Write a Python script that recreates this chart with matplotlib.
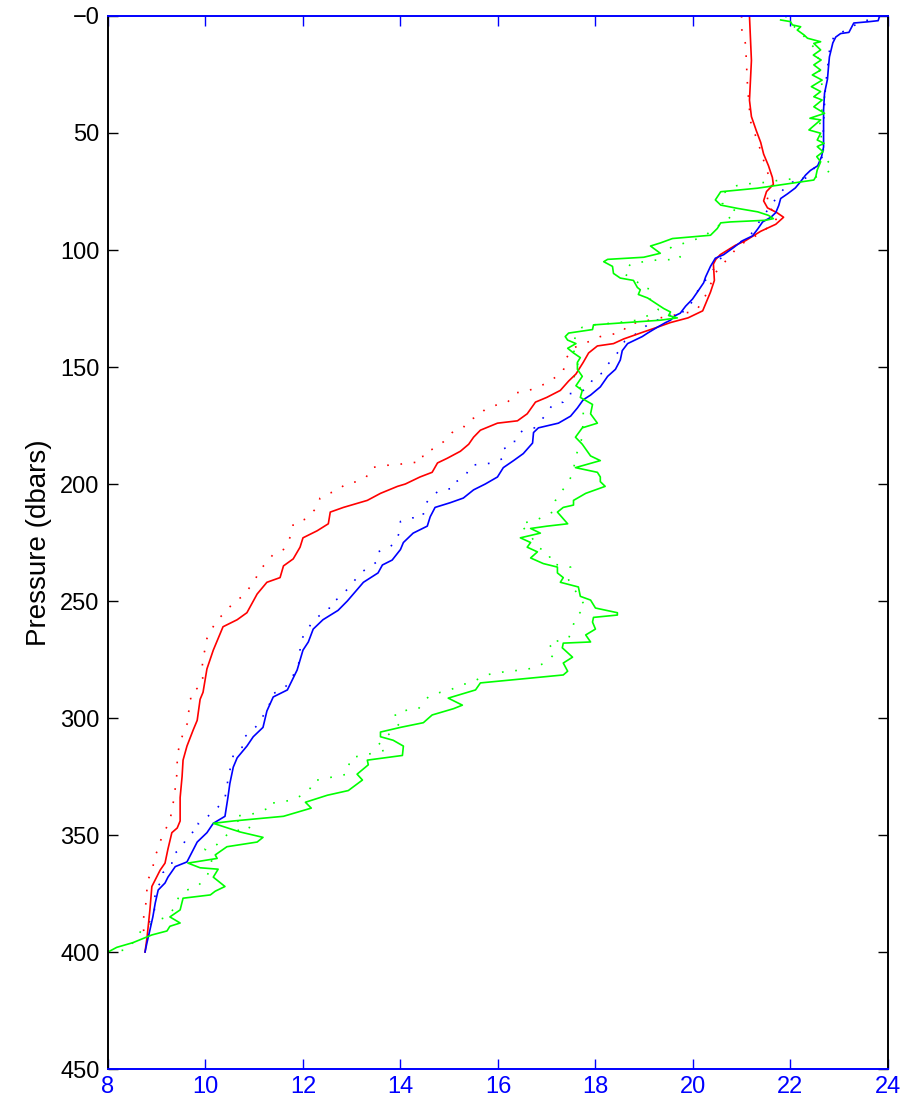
import matplotlib
matplotlib.use("Agg")
import matplotlib.pyplot as plt

plt.rcParams['font.family'] = ['Liberation Sans', 'DejaVu Sans']

# red profile, solid
red_solid_p = [0, 19, 36, 43, 49, 54, 59, 64, 69, 72, 75, 79, 82, 84, 86, 89, 92, 96, 98, 102,
               104, 106, 113, 118, 121, 126, 129, 131, 133, 135, 138, 140, 141, 144, 148, 153, 156, 160, 163, 165,
               170, 173, 174, 177, 180, 183, 186, 189, 191, 195, 197, 200, 201, 204, 207, 210, 212, 217, 220, 223,
               227, 232, 235, 240, 242, 247, 255, 258, 261, 267, 271, 279, 289, 292, 301, 305, 312, 318, 325, 334,
               344, 347, 349, 356, 362, 365, 372, 382, 394, 400]
red_solid_x = [21.16, 21.2, 21.16, 21.2, 21.3, 21.39, 21.45, 21.55, 21.63, 21.65, 21.51, 21.45, 21.53, 21.72, 21.86, 21.7, 21.39, 21.08, 20.87, 20.56,
               20.47, 20.42, 20.44, 20.36, 20.3, 20.2, 19.9, 19.54, 19.27, 18.99, 18.58, 18.37, 18.04, 17.86, 17.75, 17.6, 17.45, 17.28, 17.0, 16.77,
               16.6, 16.4, 15.99, 15.64, 15.5, 15.4, 15.23, 14.96, 14.76, 14.65, 14.4, 14.1, 13.94, 13.59, 13.32, 12.83, 12.56, 12.52, 12.29, 12.0,
               11.94, 11.8, 11.6, 11.53, 11.26, 11.06, 10.85, 10.65, 10.36, 10.24, 10.16, 10.03, 9.95, 9.89, 9.83, 9.75, 9.62, 9.54, 9.52, 9.48,
               9.48, 9.42, 9.31, 9.23, 9.17, 9.07, 8.9, 8.86, 8.8, 8.76]

# red profile, dotted
red_dot_p = [0, 4, 12, 30, 45, 55, 65, 72, 80, 86, 92, 98, 104, 110, 118, 126, 129, 130, 131, 132,
             135, 136, 137, 139, 142, 147, 152, 157, 158.5, 160.6, 161, 165, 166, 168, 171, 173, 176, 178, 182, 185,
             187, 190, 191, 191.5, 192, 193, 197, 199, 200, 203, 204, 206, 210, 215, 217, 221, 225, 228, 230, 233,
             237, 241, 248, 250, 255, 258, 262, 266, 270, 274, 279, 285, 287, 290, 294, 298, 302, 304, 312, 317,
             322, 327, 336, 344, 348, 351, 356, 360, 365, 369, 373, 379, 383, 389, 395]
red_dot_x = [21.0, 20.98, 21.08, 21.12, 21.18, 21.35, 21.5, 21.62, 21.5, 21.75, 21.45, 20.95, 20.7, 20.45, 20.3, 20.07, 19.33, 19.1, 18.86, 18.64,
             18.57, 18.35, 18.1, 17.88, 17.53, 17.38, 17.34, 17.0, 16.8, 16.58, 16.36, 16.2, 16.0, 15.74, 15.6, 15.37, 15.29, 15.06, 14.88, 14.67,
             14.45, 14.47, 14.24, 14.0, 13.73, 13.4, 13.3, 13.1, 12.87, 12.7, 12.52, 12.35, 12.29, 12.05, 11.8, 11.78, 11.68, 11.6, 11.39, 11.28,
             11.1, 11.02, 10.77, 10.6, 10.4, 10.24, 10.13, 10.03, 10.0, 9.95, 9.93, 9.95, 9.85, 9.68, 9.72, 9.64, 9.64, 9.58, 9.46, 9.42,
             9.42, 9.4, 9.34, 9.27, 9.17, 9.1, 9.03, 8.94, 8.92, 8.82, 8.8, 8.78, 8.74, 8.72, 8.76]

# blue profile, solid
blue_solid_p = [0, 2, 2.5, 3, 7, 7.5, 9, 11.5, 17.5, 22, 27, 33, 40, 56, 60, 64, 66, 68, 71, 73.5,
                76, 78, 81, 84, 86, 88, 91, 94, 96, 99, 102, 103.5, 107, 111.5, 114, 118, 121, 124, 127, 128,
                130, 131, 133, 135.5, 137, 140, 143, 147, 151, 154, 158.5, 162, 164, 167.5, 171, 174, 176, 178, 182.5, 187,
                190, 193, 197, 200, 202.5, 206, 208, 210, 214, 218, 221, 225, 228, 232.5, 234.6, 238, 242, 250, 254, 258,
                262, 267.5, 271, 279.5, 288, 291, 297, 304, 308, 312, 317, 321, 328, 334, 342, 345, 349, 353, 361.5, 363.5,
                368, 370.5, 373.5, 379, 385, 390.6, 396, 400]
blue_solid_x = [23.83, 23.8, 23.58, 23.3, 23.2, 23.03, 22.93, 22.87, 22.8, 22.78, 22.76, 22.7, 22.68, 22.68, 22.64, 22.56, 22.41, 22.31, 22.2, 22.1,
                21.94, 21.8, 21.76, 21.7, 21.6, 21.43, 21.33, 21.22, 21.02, 20.83, 20.63, 20.46, 20.36, 20.26, 20.22, 20.09, 19.99, 19.85, 19.74, 19.64,
                19.54, 19.44, 19.27, 19.07, 18.96, 18.66, 18.55, 18.51, 18.41, 18.25, 18.1, 17.9, 17.75, 17.63, 17.49, 17.24, 16.83, 16.73, 16.71, 16.52,
                16.32, 16.11, 15.99, 15.74, 15.5, 15.29, 15.02, 14.71, 14.61, 14.55, 14.26, 14.06, 14.0, 13.83, 13.63, 13.54, 13.24, 12.91, 12.72, 12.41,
                12.21, 12.11, 12.0, 11.88, 11.68, 11.39, 11.26, 11.18, 10.98, 10.85, 10.65, 10.57, 10.5, 10.46, 10.4, 10.16, 10.03, 9.83, 9.62, 9.38,
                9.23, 9.17, 9.03, 8.97, 8.92, 8.86, 8.8, 8.76]

# blue profile, dotted
blue_dot_p = [0, 3, 7, 8, 15, 30, 45, 60, 69, 71.5, 77, 81, 87, 93, 97, 99, 104, 109, 117, 126,
              127, 131, 136, 139, 143, 146, 149, 152.5, 154, 158.5, 161, 161.5, 165, 166, 170, 176, 177, 180, 183, 185,
              189, 191, 191.5, 192, 196, 198, 200, 202, 203, 206, 210, 214, 214.5, 216, 220.5, 225, 227, 229, 233.5, 236,
              238, 242, 245, 249, 251, 253.5, 256, 259, 266, 270, 275, 279.5, 282.5, 285, 288, 289.5, 292, 296, 300, 302,
              304, 306, 309, 313, 316, 326, 330, 334, 338, 342, 345, 347, 350, 356, 358.5, 363, 366, 370, 373, 383,
              387.6, 398]
blue_dot_x = [23.85, 23.4, 23.05, 22.9, 22.8, 22.72, 22.68, 22.66, 22.35, 21.96, 21.74, 21.6, 21.39, 21.2, 20.95, 20.79, 20.55, 20.4, 20.11, 19.88,
              19.66, 19.13, 18.82, 18.6, 18.49, 18.37, 18.25, 18.16, 17.96, 17.88, 17.66, 17.42, 17.34, 17.12, 17.0, 16.75, 16.52, 16.34, 16.34, 16.11,
              16.11, 15.9, 15.68, 15.43, 15.35, 15.25, 15.02, 15.02, 14.78, 14.6, 14.47, 14.47, 14.24, 14.0, 13.98, 13.9, 13.77, 13.54, 13.5, 13.32,
              13.18, 13.03, 12.91, 12.72, 12.54, 12.54, 12.35, 12.19, 11.98, 11.94, 11.94, 11.86, 11.78, 11.72, 11.57, 11.39, 11.37, 11.26, 11.16, 11.12,
              11.02, 10.92, 10.75, 10.75, 10.57, 10.46, 10.44, 10.4, 10.26, 10.05, 9.85, 9.89, 9.64, 9.5, 9.31, 9.31, 9.13, 9.1, 8.97, 8.95,
              8.84, 8.82]

# green profile, solid
green_solid_p = [1.7, 2.4, 3.8, 4.6, 6, 8.1, 9.5, 11, 11.7, 14.5, 16.7, 18.8, 20.9, 23.1, 25.2, 27.4, 30.2, 32.3, 34.5, 35.9,
                 38.8, 41.6, 43.7, 44.4, 48.7, 50.1, 53, 54.4, 55.8, 58, 60.1, 62.3, 65.8, 68.7, 70.1, 73.6, 75.1, 78.6, 80.8, 82.2,
                 83.7, 85.2, 86.6, 87.3, 88, 88.4, 90.8, 93.7, 95.1, 97, 98.3, 101.4, 103.1, 104, 105, 107, 110, 112, 113, 116,
                 117, 119, 120.5, 125, 126.5, 128, 129, 130, 131, 132, 134, 135.5, 137, 138.5, 140, 142, 144, 146, 148, 151,
                 154, 158, 160, 163, 166, 170, 174, 176, 180, 183, 188, 190, 193, 195, 197, 199, 201, 204, 207, 209,
                 210, 212, 217, 218, 219, 221, 223, 225, 227, 229, 231.6, 234, 235.5, 238, 240, 242, 244, 248, 249.6, 253,
                 255, 256, 257, 259, 262, 264.5, 267.5, 268, 270, 274, 276.5, 280, 281.6, 285, 288, 291.5, 294.5, 296, 298.7, 302,
                 304, 306, 308, 309.5, 312, 316, 318, 320, 324, 326.5, 331, 333, 336, 338.5, 342, 344, 345, 348.7, 351, 353,
                 355, 358.5, 360, 362, 364, 364.6, 368, 372, 374, 375.6, 377, 382, 385, 387.6, 389, 391, 392.7, 396, 398, 400]
green_solid_x = [21.8, 22.0, 22.04, 22.21, 22.14, 22.28, 22.35, 22.62, 22.48, 22.62, 22.47, 22.63, 22.48, 22.62, 22.45, 22.65, 22.43, 22.62, 22.48, 22.65,
                 22.48, 22.7, 22.4, 22.62, 22.38, 22.62, 22.55, 22.69, 22.55, 22.67, 22.54, 22.62, 22.55, 22.52, 22.48, 21.32, 20.57, 20.46, 20.57, 20.91,
                 21.33, 21.55, 21.65, 21.49, 20.77, 20.57, 20.5, 20.36, 19.58, 19.33, 19.13, 19.33, 18.99, 18.25, 18.17, 18.35, 18.37, 18.51, 18.78, 18.86,
                 18.92, 18.88, 19.07, 19.4, 19.54, 19.5, 19.68, 19.33, 18.66, 17.96, 17.94, 17.45, 17.38, 17.43, 17.6, 17.43, 17.55, 17.69, 17.63, 17.63,
                 17.73, 17.6, 17.73, 17.69, 17.94, 17.9, 18.04, 17.73, 17.59, 17.73, 17.9, 18.1, 17.59, 18.04, 18.1, 18.1, 18.2, 17.8, 17.55, 17.55,
                 17.34, 17.22, 17.43, 17.01, 16.67, 16.87, 16.46, 16.67, 16.6, 16.81, 16.67, 16.93, 17.22, 17.22, 17.34, 17.28, 17.65, 17.69, 17.9, 18.0,
                 18.45, 18.45, 17.96, 17.94, 18.0, 17.8, 17.9, 17.34, 17.32, 17.53, 17.34, 17.43, 17.34, 15.64, 15.54, 14.98, 15.27, 15.09, 14.65, 14.47,
                 14.0, 13.59, 13.59, 13.85, 14.06, 14.04, 13.32, 13.34, 13.11, 13.22, 12.93, 12.5, 12.05, 12.17, 11.6, 10.57, 10.16, 10.71, 11.18, 11.06,
                 10.44, 10.2, 10.24, 9.64, 9.89, 10.26, 10.16, 10.4, 10.2, 10.1, 9.54, 9.48, 9.27, 9.48, 9.27, 9.21, 8.9, 8.51, 8.18, 8.0]

# green profile, dotted
green_dot_p = [0, 3, 8, 15, 25, 34.6, 45, 55, 61, 64.5, 66.5, 69, 70, 71, 71.5, 72.5, 76, 80, 83.7, 87,
               93, 95, 99, 103, 104, 104.3, 105, 106, 110, 114, 116, 119.6, 122.7, 125.6, 127, 130, 131, 132, 133, 136,
               142.7, 150, 154.7, 161, 171, 180, 188, 196, 201, 207, 212, 216, 216.7, 219.7, 223, 227, 229.5, 234, 235.5, 241,
               244.4, 252.5, 257, 260, 266, 268, 272, 276, 278.6, 279.5, 280, 281, 281.5, 284.6, 286, 288, 289, 291, 296, 296.6,
               298, 301, 302, 311.6, 313.7, 315, 316, 317, 324, 325, 326, 327, 330, 333, 335, 336, 336.5, 338.5, 340.6, 341.5,
               342, 345, 347, 348.7, 354, 356, 360.7, 368, 372, 373.5, 377, 380.7, 385, 386, 389.7, 396, 399, 400]
green_dot_x = [21.9, 22.0, 22.25, 22.55, 22.6, 22.7, 22.6, 22.65, 22.72, 22.87, 22.78, 22.5, 21.8, 21.56, 21.22, 20.9, 20.6, 20.6, 20.91, 20.7,
               20.3, 20.12, 19.54, 19.74, 19.72, 19.25, 18.99, 18.72, 18.58, 18.88, 19.09, 19.03, 19.23, 19.29, 19.19, 18.86, 18.45, 17.96, 17.73, 17.59,
               17.55, 17.65, 17.55, 17.75, 17.75, 17.73, 17.6, 17.53, 17.38, 17.18, 17.12, 16.73, 16.46, 16.56, 16.7, 16.81, 17.05, 17.08, 17.49, 17.45,
               17.55, 17.8, 17.59, 17.55, 17.45, 17.03, 17.18, 17.01, 16.73, 16.5, 16.21, 15.9, 15.78, 15.47, 15.23, 15.02, 14.82, 14.57, 14.37, 14.14,
               13.89, 13.91, 14.0, 13.54, 13.69, 13.44, 13.22, 12.97, 12.91, 12.66, 12.41, 12.19, 12.15, 11.98, 11.78, 11.53, 11.29, 11.29, 11.06, 10.81,
               10.57, 10.71, 10.92, 10.5, 10.24, 9.99, 10.13, 10.03, 9.83, 9.62, 9.44, 9.38, 9.21, 9.07, 8.72, 8.51, 8.39, 8.04]

x_ticks = [8, 10, 12, 14, 16, 18, 20, 22, 24]
y_ticks = [0, 50, 100, 150, 200, 250, 300, 350, 400, 450]
y_tick_labels = ['\u22120', '50', '100', '150', '200', '250', '300', '350', '400', '450']

fig = plt.figure(figsize=(9.09, 11.03), dpi=100)
ax = fig.add_axes([0.1188, 0.0308, 0.858, 0.9547])

dots = (0, (1, 7))
ax.plot(red_dot_x, red_dot_p, color='red', lw=1.2, linestyle=dots)
ax.plot(blue_dot_x, blue_dot_p, color='blue', lw=1.2, linestyle=dots)
ax.plot(green_dot_x, green_dot_p, color='#00ff00', lw=1.2, linestyle=dots)
ax.plot(red_solid_x, red_solid_p, color='red', lw=1.2)
ax.plot(blue_solid_x, blue_solid_p, color='blue', lw=1.2)
ax.plot(green_solid_x, green_solid_p, color='#00ff00', lw=1.2)

ax.set_xlim(8, 24)
ax.set_ylim(450, 0)
ax.set_xticks(x_ticks)
ax.set_yticks(y_ticks)
ax.set_yticklabels(y_tick_labels)

for side in ['top', 'bottom']:
    ax.spines[side].set_color('blue')
    ax.spines[side].set_linewidth(1.4)
for side in ['left', 'right']:
    ax.spines[side].set_color('black')
    ax.spines[side].set_linewidth(1.4)

ax.tick_params(axis='x', direction='in', top=True, bottom=True, length=7.5, width=1.0,
               color='blue', labelcolor='blue', labelsize=17, pad=5)
ax.tick_params(axis='y', direction='in', left=True, right=True, length=7.5, width=1.0,
               color='black', labelcolor='black', labelsize=17, pad=6)

ax.set_ylabel('Pressure (dbars)', fontsize=20, labelpad=6)

fig.savefig('out.png', dpi=100)
